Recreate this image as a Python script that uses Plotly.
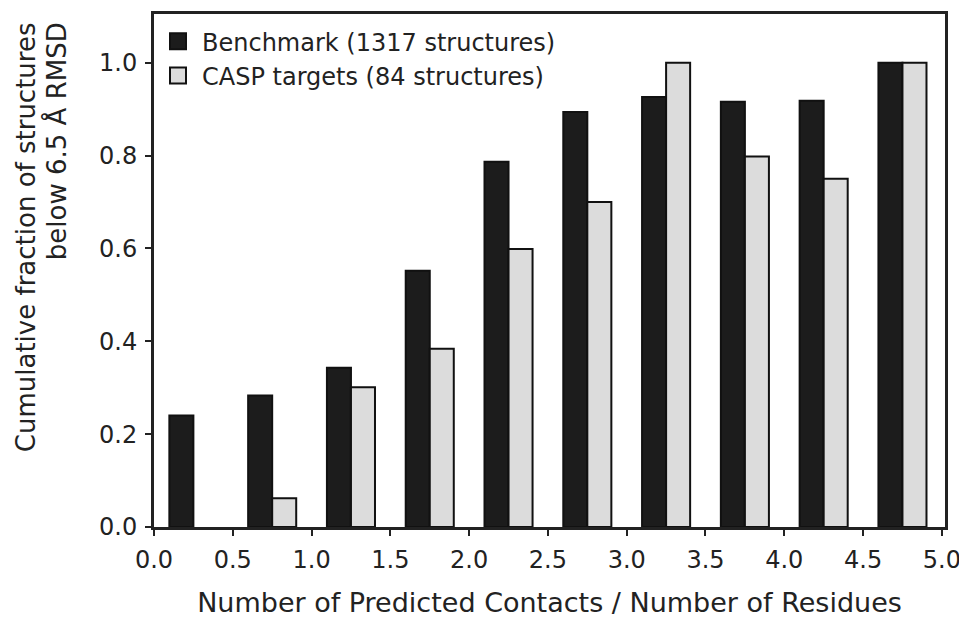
import plotly.graph_objects as go

x_centers = [0.25, 0.75, 1.25, 1.75, 2.25, 2.75, 3.25, 3.75, 4.25, 4.75]
benchmark = [0.24, 0.283, 0.343, 0.552, 0.787, 0.894, 0.926, 0.916, 0.918, 1.0]
casp = [None, 0.062, 0.301, 0.384, 0.599, 0.70, 1.0, 0.798, 0.75, 1.0]
x_ticks = [0.0, 0.5, 1.0, 1.5, 2.0, 2.5, 3.0, 3.5, 4.0, 4.5, 5.0]
y_ticks = [0.0, 0.2, 0.4, 0.6, 0.8, 1.0]
series_names = ["Benchmark (1317 structures)", "CASP targets (84 structures)"]
series_colors = ["#1c1c1c", "#dcdcdc"]
edge_color = "#111111"
y_title_lines = ["Cumulative fraction of structures", "below 6.5 Å RMSD"]

fig = go.Figure()
for vals, name, col in zip([benchmark, casp], series_names, series_colors):
    fig.add_trace(go.Bar(
        x=x_centers, y=vals, name=name, legendgroup=name, showlegend=False,
        marker=dict(color=col, line=dict(color=edge_color, width=2)),
    ))
# legend entries with larger square swatches
for name, col in zip(series_names, series_colors):
    fig.add_trace(go.Scatter(
        x=[None], y=[None], mode="markers", name=name, legendgroup=name,
        marker=dict(symbol="square", size=16, color=col,
                    line=dict(color=edge_color, width=2)),
    ))

font_family = "DejaVu Sans, Liberation Sans, Arial, sans-serif"
fig.update_layout(
    width=959, height=610,
    barmode="group", bargap=0.39, bargroupgap=0.0,
    plot_bgcolor="white", paper_bgcolor="white",
    margin=dict(l=146, r=22, t=6, b=91),
    font=dict(family=font_family, size=23, color="#222222"),
    showlegend=True,
    legend=dict(x=0.0, y=0.99, xanchor="left", yanchor="top",
                bgcolor="rgba(0,0,0,0)", font=dict(size=24, color="#222222"),
                itemsizing="trace", tracegroupgap=0, itemwidth=38),
)
fig.update_xaxes(
    range=[0, 5.02], tickvals=x_ticks, ticktext=[f"{v:.1f}" for v in x_ticks],
    ticks="outside", ticklen=6, tickwidth=2, tickcolor="#222222",
    showline=True, linewidth=3, linecolor="#222222", mirror=True,
    showgrid=False, zeroline=False, ticklabelstandoff=3, automargin=False,
    title=dict(text="Number of Predicted Contacts / Number of Residues", standoff=28,
               font=dict(size=27)),
    tickfont=dict(size=24),
)
fig.update_yaxes(
    range=[0, 1.105], tickvals=y_ticks, ticktext=[f"{v:.1f}" for v in y_ticks],
    ticks="outside", ticklen=6, tickwidth=2, tickcolor="#222222",
    showline=True, linewidth=3, linecolor="#222222", mirror=True,
    showgrid=False, zeroline=False, ticklabelstandoff=3, automargin=False,
    tickfont=dict(size=24),
)
# two-line y title, lines aligned at the top (as in the reference)
for txt, xp in zip(y_title_lines, [-0.1618, -0.1239]):
    fig.add_annotation(
        text=txt, textangle=-90, xref="paper", yref="paper",
        x=xp, y=0.988, xanchor="center", yanchor="top", showarrow=False,
        font=dict(size=26, color="#222222"),
    )

fig.write_html("out.html")
